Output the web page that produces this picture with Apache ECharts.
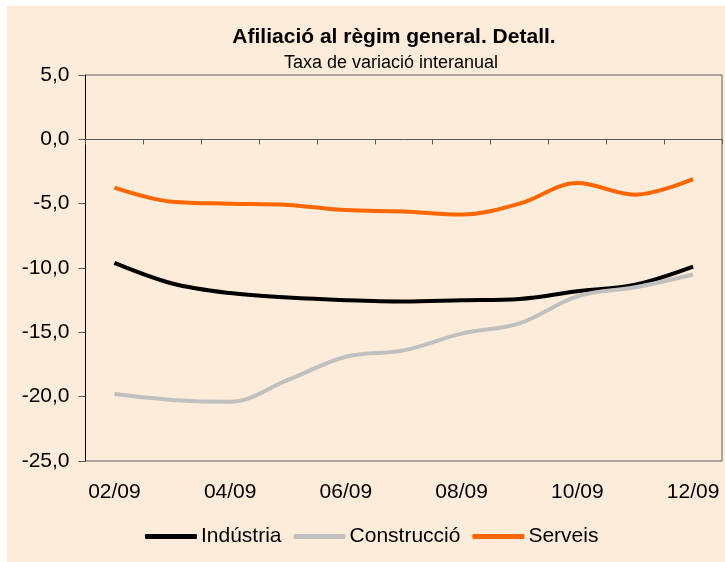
<!DOCTYPE html>
<html>
<head>
<meta charset="utf-8">
<script src="https://cdn.jsdelivr.net/npm/echarts@6/dist/echarts.min.js"></script>
<style>
  html, body { margin: 0; padding: 0; background: #fff; }
  #main { position: absolute; left: 7px; top: 6px; width: 718px; height: 556px; background: #fcecd9; }
</style>
</head>
<body>
<div id="main"></div>
<script>
// mesos (02/09 - 12/09)
var mesos = ['02/09', '03/09', '04/09', '05/09', '06/09', '07/09', '08/09', '09/09', '10/09', '11/09', '12/09'];

// taxa de variació interanual (%)
var industria = [-9.6, -11.2, -11.95, -12.3, -12.5, -12.6, -12.5, -12.4, -11.8, -11.3, -9.9];
var construccio = [-19.8, -20.25, -20.4, -18.7, -16.9, -16.4, -15.1, -14.3, -12.2, -11.5, -10.5];
var serveis = [-3.75, -4.85, -5.0, -5.1, -5.5, -5.6, -5.85, -5.0, -3.4, -4.3, -3.1];

var font = 'Liberation Sans, Arial, sans-serif';

var myChart = echarts.init(document.getElementById('main'));

function serie(name, data, color) {
    return {
        name: name,
        type: 'line',
        data: data,
        smooth: 0.35,
        symbol: 'none',
        lineStyle: { color: color, width: 4 },
        itemStyle: { color: color }
    };
}

myChart.setOption({
    animation: false,
    title: [
        {
            text: 'Afiliació al règim general. Detall.',
            left: 387, top: 21, padding: 0, textAlign: 'center',
            textStyle: { fontFamily: font, fontSize: 21, fontWeight: 'bold', color: '#000' }
        },
        {
            text: 'Taxa de variació interanual',
            left: 384, top: 48, padding: 0, textAlign: 'center',
            textStyle: { fontFamily: font, fontSize: 18, fontWeight: 'normal', color: '#000' }
        }
    ],
    legend: {
        left: 138, top: 520, padding: 0,
        icon: 'roundRect',
        itemWidth: 52, itemGap: 12, itemHeight: 5,
        textStyle: { fontFamily: font, fontSize: 21, color: '#000', padding: [0, 0, 0, -1] },
        data: ['Indústria', 'Construcció', 'Serveis']
    },
    grid: {
        left: 78.5, right: 3, top: 69, bottom: 101,
        show: true, borderColor: '#5a5a5a', borderWidth: 1,
        backgroundColor: 'transparent',
        containLabel: false
    },
    xAxis: [
        {
            type: 'category',
            data: mesos,
            position: 'bottom',
            axisLine: { show: false, onZero: false },
            axisTick: { show: false },
            axisLabel: { interval: 1, margin: 21, fontFamily: font, fontSize: 21, color: '#000' }
        },
        {
            type: 'category',
            data: mesos,
            position: 'bottom',
            axisLine: { show: true, onZero: true, lineStyle: { color: '#5a5a5a', width: 1 } },
            axisTick: { show: true, interval: 0, length: 5, lineStyle: { color: '#5a5a5a' } },
            axisLabel: { show: false }
        }
    ],
    yAxis: {
        type: 'value',
        min: -25, max: 5, interval: 5,
        axisLine: { show: true, lineStyle: { color: '#000', width: 1 } },
        axisTick: { show: true, length: 7, lineStyle: { color: '#5a5a5a' } },
        splitLine: { show: false },
        axisLabel: {
            margin: 16, fontFamily: font, fontSize: 21, color: '#000',
            formatter: function (v) { return v.toFixed(1).replace('.', ','); }
        }
    },
    series: [
        serie('Indústria', industria, '#000000'),
        serie('Construcció', construccio, '#c0c0c0'),
        serie('Serveis', serveis, '#ff6600')
    ]
});
</script>
</body>
</html>
